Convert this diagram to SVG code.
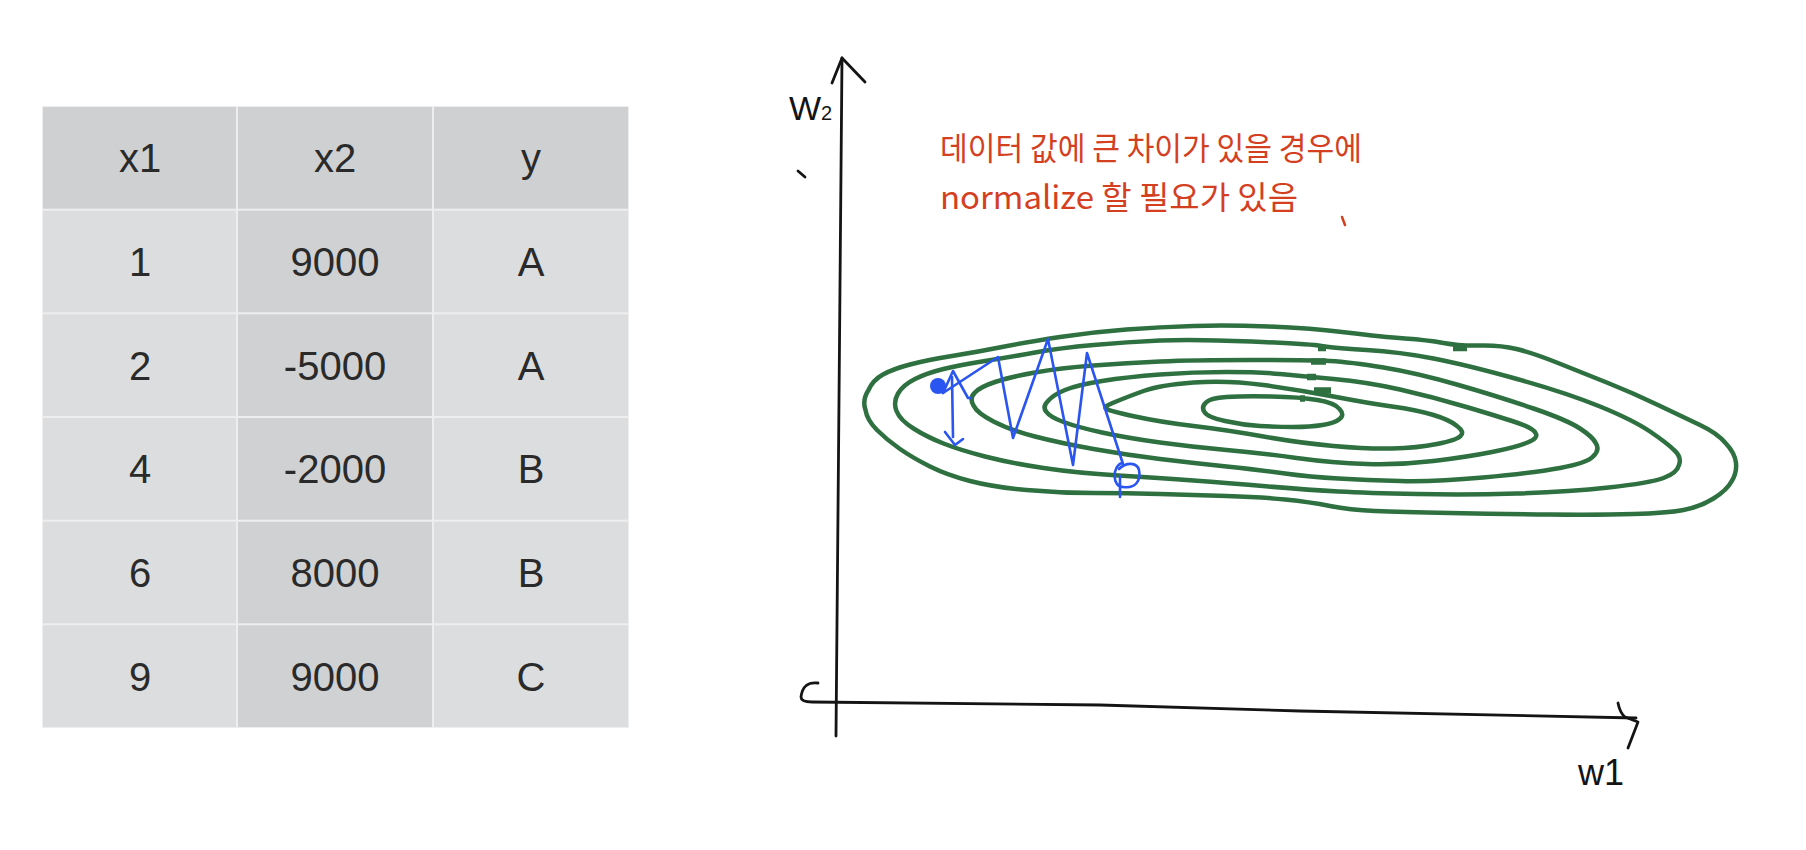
<svg xmlns="http://www.w3.org/2000/svg" width="1806" height="850" viewBox="0 0 1806 850">
<style>
.hdr{fill:#cfd0d2}
.cell{fill:#dcdddf}
.dark{fill:#d0d1d3}
.tt{font-family:"Liberation Sans","Helvetica Neue",Arial,sans-serif;font-size:40px;fill:#2a2a2a;text-anchor:middle}
.ax{fill:none;stroke:#141414;stroke-width:2.8;stroke-linecap:round;stroke-linejoin:round}
.hand{font-family:"Liberation Sans",Arial,sans-serif;fill:#141414}
.red{font-family:"Noto Sans CJK KR","Noto Sans",sans-serif;font-size:32px;fill:#d4401f}
.ct{fill:none;stroke:#2e7040;stroke-width:4.5;stroke-linecap:round;stroke-linejoin:round}
.mk{fill:none;stroke:#2e7040;stroke-width:6.5;stroke-linecap:butt}
.bl{fill:none;stroke:#2b55f0;stroke-width:2.6;stroke-linecap:round;stroke-linejoin:round}
</style>
<rect x="0" y="0" width="1806" height="850" fill="#ffffff"/>

<g id="table">
  <rect x="42" y="106" width="587" height="622" fill="#eeeeef"/>
  <g id="header">
    <rect class="hdr" x="43" y="107" width="193" height="101.7"/>
    <rect class="hdr" x="238" y="107" width="194" height="101.7"/>
    <rect class="hdr" x="434" y="107" width="194" height="101.7"/>
  </g>
  <g id="row1">
    <rect class="cell" x="43" y="210.7" width="193" height="101.6"/>
    <rect class="dark" x="238" y="210.7" width="194" height="101.6"/>
    <rect class="cell" x="434" y="210.7" width="194" height="101.6"/>
  </g>
  <g id="row2">
    <rect class="cell" x="43" y="314.3" width="193" height="101.7"/>
    <rect class="dark" x="238" y="314.3" width="194" height="101.7"/>
    <rect class="cell" x="434" y="314.3" width="194" height="101.7"/>
  </g>
  <g id="row3">
    <rect class="cell" x="43" y="418" width="193" height="101.7"/>
    <rect class="dark" x="238" y="418" width="194" height="101.7"/>
    <rect class="cell" x="434" y="418" width="194" height="101.7"/>
  </g>
  <g id="row4">
    <rect class="cell" x="43" y="521.7" width="193" height="101.6"/>
    <rect class="dark" x="238" y="521.7" width="194" height="101.6"/>
    <rect class="cell" x="434" y="521.7" width="194" height="101.6"/>
  </g>
  <g id="row5">
    <rect class="cell" x="43" y="625.3" width="193" height="101.7"/>
    <rect class="dark" x="238" y="625.3" width="194" height="101.7"/>
    <rect class="cell" x="434" y="625.3" width="194" height="101.7"/>
  </g>
  <g id="table-text">
    <text class="tt" x="140" y="172">x1</text>
    <text class="tt" x="335" y="172">x2</text>
    <text class="tt" x="531" y="172">y</text>
    <text class="tt" x="140" y="276">1</text>
    <text class="tt" x="335" y="276">9000</text>
    <text class="tt" x="531" y="276">A</text>
    <text class="tt" x="140" y="380">2</text>
    <text class="tt" x="335" y="380">-5000</text>
    <text class="tt" x="531" y="380">A</text>
    <text class="tt" x="140" y="483">4</text>
    <text class="tt" x="335" y="483">-2000</text>
    <text class="tt" x="531" y="483">B</text>
    <text class="tt" x="140" y="587">6</text>
    <text class="tt" x="335" y="587">8000</text>
    <text class="tt" x="531" y="587">B</text>
    <text class="tt" x="140" y="691">9</text>
    <text class="tt" x="335" y="691">9000</text>
    <text class="tt" x="531" y="691">C</text>
  </g>
</g>

<g id="axes">
  <path class="ax" d="M842,58 L839,400 L836,736"/>
  <path class="ax" d="M832,83 L842,58 L865,82"/>
  <path class="ax" d="M818,683 Q803,681 801,697 Q801,702 812,702 L1100,705 L1300,711 L1636,718"/>
  <path class="ax" d="M1618,703 Q1620,713 1625,717 L1638,722 L1628,748"/>
  <path class="ax" d="M798,171 L805,177"/>
  <text class="hand" x="789" y="120" font-size="34">W<tspan font-size="20">2</tspan></text>
  <text class="hand" x="1578" y="785" font-size="36">w1</text>
</g>

<g id="note">
  <text class="red" x="940" y="160" textLength="422" lengthAdjust="spacingAndGlyphs">데이터 값에 큰 차이가 있을 경우에</text>
  <text class="red" x="940" y="209" textLength="358" lengthAdjust="spacingAndGlyphs">normalize 할 필요가 있음</text>
  <path d="M1342,217 L1345,225" fill="none" stroke="#d4401f" stroke-width="2.5" stroke-linecap="round"/>
</g>

<g id="contours">
  <path id="cA" class="ct" d="M868.5,390 Q862,400 865.5,410 Q867,420 877,430 Q887,440 900,449 Q913,458 930,466.5 Q947,475 970,481 Q993,487 1026.5,490 Q1060,493 1093.5,493 Q1127,493 1160,494 Q1193,495 1226.5,496 Q1260,497 1285,499.5 Q1310,502 1330,506 Q1350,510 1375,511 Q1400,512 1450,513 Q1500,514 1550,514.5 Q1600,515 1633.5,514 Q1667,513 1683.5,510 Q1700,507 1713.5,498.5 Q1727,490 1731.5,481.5 Q1737,473 1736,463 Q1735,453 1725.5,443 Q1717,433 1700,425 Q1683,417 1658,405 Q1633,393 1608,383 Q1583,373 1558,363 Q1533,353 1516.5,349 Q1500,345 1480,345.5 Q1460,346 1443.5,343 Q1427,340 1405,338.5 Q1383,337 1346.5,332.5 Q1310,328 1268.5,326.5 Q1227,325 1193.5,326 Q1160,327 1126.5,329.5 Q1093,332 1060,337 Q1027,342 1002,347 Q977,352 952,356 Q927,360 910,364.5 Q893,369 883,374.5 Q873,380 868.5,390 Z"/>
  <path id="cB" class="ct" d="M898,393.5 Q893,402 896.5,411 Q900,420 913.5,428.5 Q927,437 943.5,443.5 Q960,450 985,456.5 Q1010,463 1043.5,468 Q1077,473 1118.5,475.5 Q1160,478 1193.5,480.5 Q1227,483 1268.5,486.5 Q1310,490 1338.5,491.5 Q1367,493 1417,494 Q1467,495 1517,493.5 Q1567,492 1608.5,487.5 Q1650,483 1663.5,478 Q1677,473 1679,465 Q1682,457 1674,450 Q1667,443 1650,431.5 Q1633,420 1600,406.5 Q1567,393 1517,379 Q1467,365 1433.5,358.5 Q1400,352 1366.5,350 Q1333,348 1321.5,346 Q1310,344 1251.5,341.5 Q1193,339 1160,340.5 Q1127,342 1093.5,345 Q1060,348 1035,352.5 Q1010,357 985,361 Q960,365 943.5,369 Q927,373 915,379 Q903,385 898,393.5 Z"/>
  <path id="cC" class="ct" d="M975,392.5 Q969,398 973.5,405.5 Q977,413 993.5,421.5 Q1010,430 1035,436.5 Q1060,443 1093.5,449 Q1127,455 1160,459 Q1193,463 1226.5,466.5 Q1260,470 1285,473.5 Q1310,477 1338.5,478.5 Q1367,480 1400,481 Q1433,482 1483,477.5 Q1533,473 1560,468 Q1587,463 1593,456.5 Q1600,450 1596,443.5 Q1593,437 1580,428.5 Q1567,420 1533.5,408.5 Q1500,397 1458.5,385 Q1417,373 1383.5,367.5 Q1350,362 1330,361 Q1310,360 1251.5,360 Q1193,360 1160,361.5 Q1127,363 1093.5,365.5 Q1060,368 1035,372.5 Q1010,377 995,382 Q980,387 975,392.5 Z"/>
  <path id="cD" class="ct" d="M1048,401 Q1042,407 1046.5,412 Q1050,417 1063.5,422 Q1077,427 1102,432.5 Q1127,438 1160,442.5 Q1193,447 1226.5,450 Q1260,453 1296.5,458 Q1333,463 1366.5,464 Q1400,465 1433.5,461 Q1467,457 1492,452 Q1517,447 1527.5,442.5 Q1539,438 1535.5,433 Q1533,428 1516.5,422.5 Q1500,417 1466.5,407 Q1433,397 1400,389.5 Q1367,382 1333.5,379 Q1300,376 1280,374 Q1260,372 1226.5,372 Q1193,372 1160,374.5 Q1127,377 1102,381 Q1077,385 1065,390 Q1053,395 1048,401 Z"/>
  <path id="cE" class="ct" d="M1115,402 Q1102,407 1106.5,409 Q1110,411 1135,416.5 Q1160,422 1193.5,426 Q1227,430 1263.5,436.5 Q1300,443 1333.5,446 Q1367,449 1392,448.5 Q1417,448 1437,444 Q1457,440 1460.5,436 Q1465,432 1457,426 Q1450,420 1433.5,415 Q1417,410 1392,406.5 Q1367,403 1333.5,396.5 Q1300,390 1263.5,385 Q1227,380 1193.5,382.5 Q1160,385 1143.5,391 Q1127,397 1115,402 Z"/>
  <path id="cF" class="ct" d="M1206,402.5 Q1201,407 1204.5,412 Q1207,417 1225,421 Q1243,425 1260,426 Q1277,427 1293.5,427 Q1310,427 1322.5,425 Q1335,423 1339.5,419 Q1345,415 1339.5,409 Q1335,403 1317.5,400 Q1300,397 1271.5,396.5 Q1243,396 1226.5,397 Q1210,398 1206,402.5 Z"/>
  <path class="mk" d="M1453,348 L1467,348 M1318,348 L1326,348 M1311,361.5 L1326,361.5 M1307,377 L1316,377 M1314,390.5 L1331,390.5 M1300,398.5 L1305,398.5"/>
</g>

<g id="descent">
  <circle cx="938" cy="386" r="8" fill="#2b55f0"/>
  <path class="bl" d="M943,393 L953,371 L968,398 L971,398"/>
  <path class="bl" d="M952,377 L953,437 M945,432 L955,445 L963,439"/>
  <path class="bl" d="M943,393 L998,357 L1013,438 L1048,339 L1073,465 L1087,353 L1123,464"/>
  <path class="bl" d="M1122,463 C1112,466 1112,487 1123,487 C1136,489 1141,480 1139,470 C1137,462 1126,462 1119,469 M1120,476 L1120,497"/>
</g>
</svg>
